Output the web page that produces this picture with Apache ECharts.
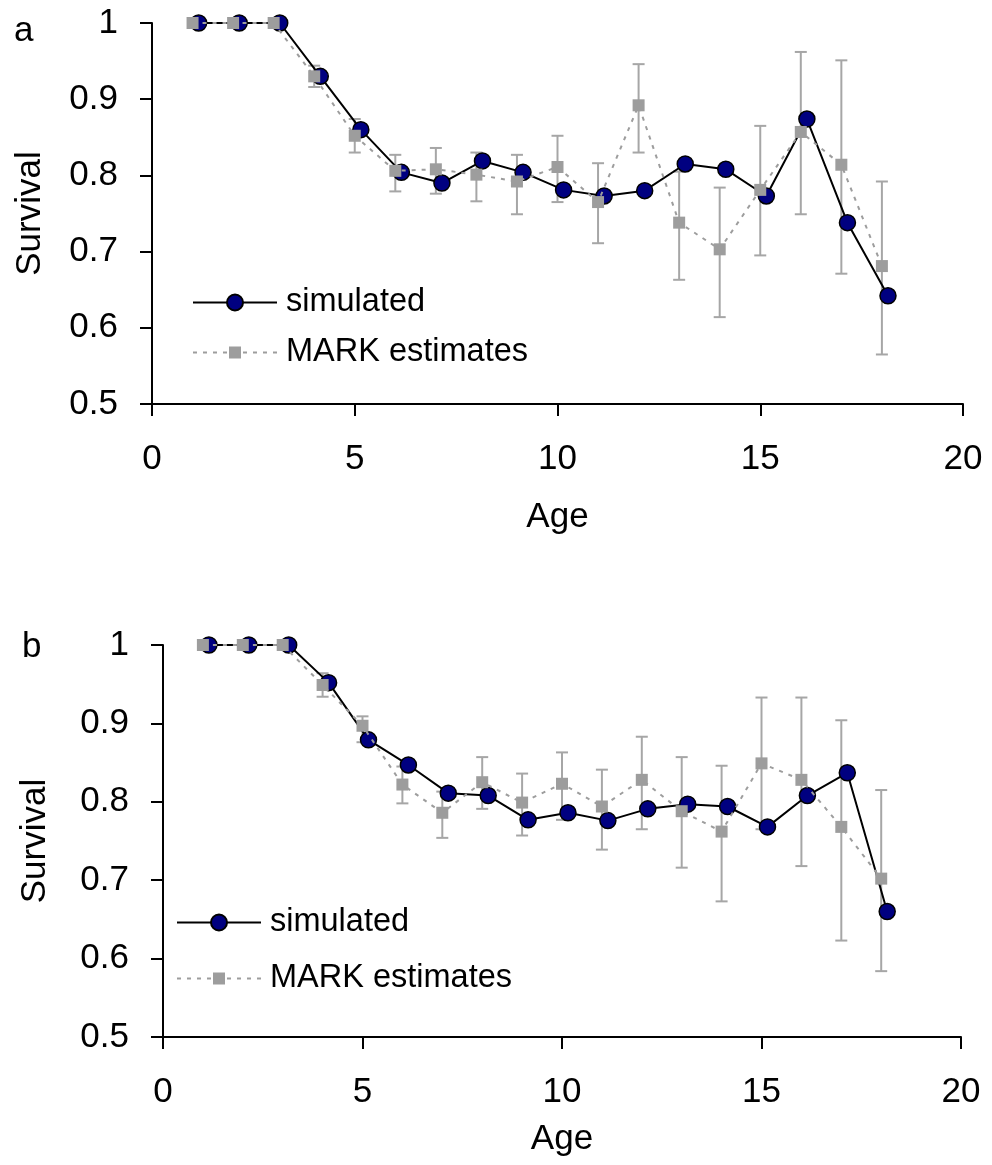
<!DOCTYPE html>
<html><head><meta charset="utf-8">
<script src="https://cdn.jsdelivr.net/npm/echarts@6/dist/echarts.min.js"></script>
<style>html,body{margin:0;padding:0;background:#fff}#c{width:992px;height:1165px}</style>
</head><body><div id="c"></div>
<script>
// ---- data ----
const ages = [1,2,3,4,5,6,7,8,9,10,11,12,13,14,15,16,17,18];
// panel a
const simA   = [1.0,1.0,1.0,0.930,0.860,0.804,0.790,0.819,0.804,0.781,0.773,0.780,0.815,0.808,0.773,0.874,0.738,0.642];
const markA  = [1.0,1.0,1.0,0.930,0.852,0.806,0.808,0.801,0.792,0.811,0.765,0.892,0.738,0.703,0.781,0.857,0.814,0.681];
const markALo= [1.0,1.0,1.0,0.916,0.830,0.779,0.776,0.766,0.749,0.765,0.711,0.830,0.663,0.614,0.695,0.749,0.671,0.565];
const markAHi= [1.0,1.0,1.0,0.944,0.874,0.827,0.836,0.830,0.827,0.852,0.816,0.946,0.805,0.784,0.865,0.962,0.951,0.792];
// panel b
const simB   = [1.0,1.0,1.0,0.952,0.879,0.847,0.811,0.808,0.777,0.786,0.776,0.791,0.797,0.794,0.768,0.808,0.837,0.660];
const markB  = [1.0,1.0,1.0,0.949,0.897,0.822,0.786,0.825,0.799,0.823,0.794,0.828,0.788,0.762,0.849,0.828,0.768,0.702];
const markBLo= [1.0,1.0,1.0,0.934,0.876,0.798,0.754,0.791,0.757,0.777,0.739,0.765,0.716,0.673,0.765,0.718,0.623,0.584];
const markBHi= [1.0,1.0,1.0,0.964,0.909,0.845,0.813,0.857,0.836,0.863,0.841,0.883,0.857,0.846,0.933,0.933,0.904,0.815];
const panelLetters = ['a','b'];
const seriesNames = ['simulated','MARK estimates'];

// ---- style ----
const FONT = '"Liberation Sans", Arial, Helvetica, sans-serif';
const NAVY = '#000080', GRAY = '#9d9d9d', ERR = '#a6a6a6';
const SIM_SHIFT = 0.15; // simulated points drawn slightly right of the MARK points, as in the original

function errData(lo, hi){ return ages.map((a,i)=>[a, lo[i], hi[i]]); }
function renderErr(params, api){
  const x = api.value(0), lo = api.value(1), hi = api.value(2);
  if (hi - lo < 1e-9) return {type:'group', children:[]};
  const p1 = api.coord([x, hi]), p2 = api.coord([x, lo]);
  const w = 6, style = {stroke: ERR, lineWidth: 2};
  return {type:'group', children:[
    {type:'line', shape:{x1:p1[0],y1:p1[1],x2:p2[0],y2:p2[1]}, style},
    {type:'line', shape:{x1:p1[0]-w,y1:p1[1],x2:p1[0]+w,y2:p1[1]}, style},
    {type:'line', shape:{x1:p2[0]-w,y1:p2[1],x2:p2[0]+w,y2:p2[1]}, style}
  ]};
}
function xAx(gi, gap){
  return {type:'value', gridIndex:gi, min:0, max:20, interval:5,
    name:'Age', nameLocation:'middle', nameGap:gap,
    nameTextStyle:{fontSize:35, color:'#000', fontFamily:FONT},
    axisLine:{show:true, onZero:false, lineStyle:{color:'#000', width:2}},
    axisTick:{show:true, length:12, lineStyle:{color:'#000', width:2}},
    axisLabel:{fontSize:35, color:'#000', fontFamily:FONT, margin:38},
    splitLine:{show:false}};
}
function yAx(gi, gap){
  return {type:'value', gridIndex:gi, min:0.5, max:1, interval:0.1,
    name:'Survival', nameLocation:'middle', nameGap:gap,
    nameTextStyle:{fontSize:35, color:'#000', fontFamily:FONT},
    axisLine:{show:true, onZero:false, lineStyle:{color:'#000', width:2}},
    axisTick:{show:true, length:12, lineStyle:{color:'#000', width:2}},
    axisLabel:{fontSize:35, color:'#000', fontFamily:FONT, margin:34},
    splitLine:{show:false}};
}
function panelSeries(gi, sim, mark, lo, hi){
  return [
    {type:'custom', name:'MARK CI '+gi, xAxisIndex:gi, yAxisIndex:gi, renderItem:renderErr,
     data:errData(lo,hi), encode:{x:0, y:[1,2]}, z:1, silent:true},
    {type:'line', name:seriesNames[0], xAxisIndex:gi, yAxisIndex:gi,
     data:ages.map((a,i)=>[a+SIM_SHIFT, sim[i]]),
     symbol:'circle', symbolSize:16,
     itemStyle:{color:NAVY, borderColor:'#000', borderWidth:1.5},
     lineStyle:{color:'#000', width:2}, z:2, silent:true},
    {type:'line', name:seriesNames[1], xAxisIndex:gi, yAxisIndex:gi,
     data:ages.map((a,i)=>[a, mark[i]]),
     symbol:'rect', symbolSize:12,
     itemStyle:{color:GRAY, borderWidth:0},
     lineStyle:{color:GRAY, width:2, type:[4,6]}, z:3, silent:true}
  ];
}
function leg(name, left, top, ih){
  return {data:[name], left:left, top:top, orient:'vertical', padding:0,
    itemWidth:84, itemHeight:ih, selectedMode:false,
    textStyle:{fontSize:32.5, color:'#000', fontFamily:FONT, padding:[0,0,0,4]}};
}

const chart = echarts.init(document.getElementById('c'), null, {renderer:'canvas'});
chart.setOption({
  animation:false,
  backgroundColor:'#fff',
  grid:[
    {left:152, top:23, width:811, height:381},
    {left:163, top:645, width:798, height:392}
  ],
  xAxis:[xAx(0, 96), xAx(1, 85)],
  yAxis:[yAx(0, 104), yAx(1, 110)],
  legend:[
    leg(seriesNames[0], 192, 286, 20),
    leg(seriesNames[1], 192, 336, 15),
    leg(seriesNames[0], 176, 906, 20),
    leg(seriesNames[1], 176, 962, 15)
  ],
  graphic:[
    {type:'text', x:14, y:31, style:{text:panelLetters[0], font:'35px '+FONT, fill:'#000', verticalAlign:'middle', align:'left'}},
    {type:'text', x:22, y:647, style:{text:panelLetters[1], font:'35px '+FONT, fill:'#000', verticalAlign:'middle', align:'left'}}
  ],
  series:[].concat(
    panelSeries(0, simA, markA, markALo, markAHi),
    panelSeries(1, simB, markB, markBLo, markBHi)
  )
});
</script>
</body></html>
